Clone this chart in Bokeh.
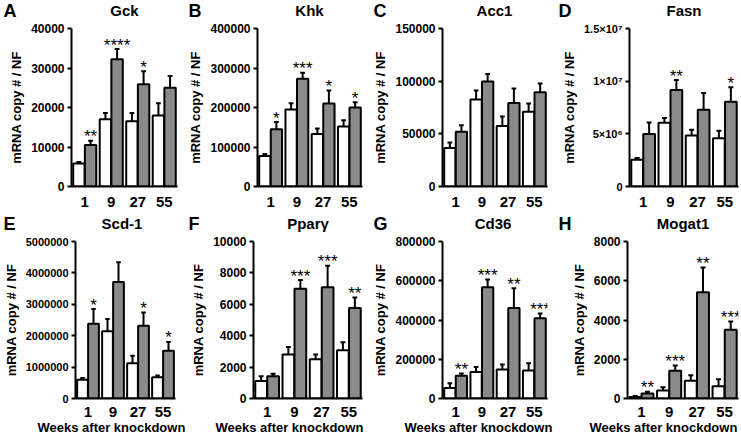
import numpy as np
from bokeh.plotting import figure
from bokeh.models import ColumnDataSource, FactorRange, Range1d, FixedTicker, Title
from bokeh.transform import dodge
from bokeh.layouts import row, column
from bokeh.embed import file_html
from bokeh.resources import INLINE
from bokeh.core.properties import value

weeks = ["1", "9", "27", "55"]

gck_ctrl = [5800, 17000, 16500, 18000]
gck_ctrl_err = [400, 1600, 2100, 3100]
gck_kd = [10500, 32200, 25900, 25000]
gck_kd_err = [1100, 2600, 3300, 3000]
gck_sig = ["**", "****", "*", ""]
gck_ticks = [0, 10000, 20000, 30000, 40000]
gck_tick_labels = ["0", "10000", "20000", "30000", "40000"]

khk_ctrl = [77000, 195000, 133000, 152000]
khk_ctrl_err = [5000, 16000, 14000, 16000]
khk_kd = [145000, 273000, 210000, 200000]
khk_kd_err = [18000, 15000, 33000, 13000]
khk_sig = ["*", "***", "*", "*"]
khk_ticks = [0, 100000, 200000, 300000, 400000]
khk_tick_labels = ["0", "100000", "200000", "300000", "400000"]

acc1_ctrl = [36500, 82700, 57500, 71000]
acc1_ctrl_err = [5300, 8500, 9000, 7700]
acc1_kd = [52000, 99700, 79300, 89500]
acc1_kd_err = [6200, 7000, 13700, 8300]
acc1_sig = ["", "", "", ""]
acc1_ticks = [0, 50000, 100000, 150000]
acc1_tick_labels = ["0", "50000", "100000", "150000"]

fasn_ctrl = [2540000, 6050000, 4830000, 4590000]
fasn_ctrl_err = [170000, 450000, 550000, 700000]
fasn_kd = [4980000, 9170000, 7280000, 8040000]
fasn_kd_err = [1100000, 930000, 1600000, 1380000]
fasn_sig = ["", "**", "", "*"]
fasn_ticks = [0, 5000000, 10000000, 15000000]
fasn_tick_labels = ["0", "5×10⁶", "1×10⁷", "1.5×10⁷"]

scd1_ctrl = [600000, 2140000, 1120000, 680000]
scd1_ctrl_err = [50000, 390000, 240000, 50000]
scd1_kd = [2380000, 3710000, 2320000, 1520000]
scd1_kd_err = [470000, 630000, 420000, 280000]
scd1_sig = ["*", "", "*", "*"]
scd1_ticks = [0, 1000000, 2000000, 3000000, 4000000, 5000000]
scd1_tick_labels = ["0", "1000000", "2000000", "3000000", "4000000", "5000000"]

pparg_ctrl = [1120, 2810, 2500, 3075]
pparg_ctrl_err = [300, 470, 310, 510]
pparg_kd = [1420, 6990, 7090, 5760]
pparg_kd_err = [150, 550, 1360, 680]
pparg_sig = ["", "***", "***", "**"]
pparg_ticks = [0, 2000, 4000, 6000, 8000, 10000]
pparg_tick_labels = ["0", "2000", "4000", "6000", "8000", "10000"]

cd36_ctrl = [54000, 135000, 148000, 143000]
cd36_ctrl_err = [24000, 25000, 25000, 36000]
cd36_kd = [116000, 567000, 461000, 409000]
cd36_kd_err = [11000, 40000, 101000, 24000]
cd36_sig = ["**", "***", "**", "***"]
cd36_ticks = [0, 200000, 400000, 600000, 800000]
cd36_tick_labels = ["0", "200000", "400000", "600000", "800000"]

mogat1_ctrl = [80, 410, 900, 620]
mogat1_ctrl_err = [50, 160, 290, 360]
mogat1_kd = [260, 1420, 5420, 3500]
mogat1_kd_err = [80, 260, 1260, 425]
mogat1_sig = ["**", "***", "**", "***"]
mogat1_ticks = [0, 2000, 4000, 6000, 8000]
mogat1_tick_labels = ["0", "2000", "4000", "6000", "8000"]

row1_letters = ["A", "B", "C", "D"]
row1_titles = ["Gck", "Khk", "Acc1", "Fasn"]
row2_letters = ["E", "F", "G", "H"]
row2_titles = ["Scd-1", "Pparγ", "Cd36", "Mogat1"]

x_label = "Weeks after knockdown"
y_label = "mRNA copy # / NF"

FONT = "Liberation Sans"
GRAY = "#8a8a8a"
BW = 0.43
OFF = 0.22
CAP = 0.09
TOTAL_W = 741

# geometry per panel: (width, left, right) per column; per row: header height, (height, top, bottom)
COLS = [[(185, 71, 8), (185, 71, 8), (185, 71, 8), (186, 74, 3)],
        [(185, 68, 10), (185, 68, 8), (185, 68, 8), (186, 72, 3)]]
HEADER_H = [21, 21]
LETTER_Y = 10.5
TITLE_Y = 11.0
ROWS = [(192, 7, 27), (202, 7, 38)]
XSTANDOFF = [4, 2]


def make_header(r, letters, titles):
    h = HEADER_H[r]
    p = figure(frame_width=TOTAL_W, frame_height=h, x_range=Range1d(0, TOTAL_W), y_range=Range1d(0, h),
               x_axis_type=None, y_axis_type=None, title=None,
               output_backend="svg", toolbar_location=None, tools="",
               min_border=0, min_border_left=0, min_border_right=0, min_border_top=0, min_border_bottom=0)
    p.outline_line_color = None
    p.xgrid.visible = False
    p.ygrid.visible = False
    lx, tx = [], []
    x0 = 0
    for (w, l, rt) in COLS[r]:
        lx.append(x0 + 3)
        tx.append(x0 + l + (w - l - rt) / 2)
        x0 += w
    p.text(x=lx, y=[LETTER_Y] * len(lx), text=letters, text_align="left", text_baseline="alphabetic",
           text_font=value(FONT), text_font_size="18px", text_font_style="bold", text_color="black")
    p.text(x=tx, y=[TITLE_Y] * len(tx), text=titles, text_align="center", text_baseline="alphabetic",
           text_font=value(FONT), text_font_size="15px", text_font_style="bold", text_color="black")
    return p


def make_panel(r, c, ctrl, ctrl_err, kd, kd_err, sig, ticks, tick_labels,
               tick_size="12px", with_xlabel=False):
    width, left, right = COLS[r][c]
    height, top, bottom = ROWS[r]

    p = figure(x_range=FactorRange(factors=weeks, range_padding=0),
               y_range=Range1d(0, ticks[-1]),
               width=width, height=height, title=None,
               output_backend="svg", toolbar_location=None, tools="",
               min_border_left=left, min_border_right=right,
               min_border_top=top, min_border_bottom=bottom)

    src = ColumnDataSource(dict(
        week=weeks, ctrl=ctrl, kd=kd,
        ctrl_top=list(np.add(ctrl, ctrl_err)), kd_top=list(np.add(kd, kd_err)),
        sig=sig))

    for field, topf, off, color in (("ctrl", "ctrl_top", -OFF, "white"), ("kd", "kd_top", OFF, GRAY)):
        p.vbar(x=dodge("week", off, range=p.x_range), top=field, width=BW,
               fill_color=color, line_color="black", line_width=2, source=src)
        p.segment(x0=dodge("week", off, range=p.x_range), x1=dodge("week", off, range=p.x_range),
                  y0=field, y1=topf, line_color="black", line_width=2, source=src)
        p.segment(x0=dodge("week", off - CAP, range=p.x_range), x1=dodge("week", off + CAP, range=p.x_range),
                  y0=topf, y1=topf, line_color="black", line_width=2, source=src)

    p.text(x=dodge("week", OFF, range=p.x_range), y="kd_top", text="sig", source=src,
           text_align="center", text_baseline="alphabetic", y_offset=-4,
           text_font=value(FONT), text_font_size="17px", text_color="black")

    p.xgrid.visible = False
    p.ygrid.visible = False
    p.outline_line_color = None

    p.xaxis.major_tick_line_color = None
    p.xaxis.minor_tick_line_color = None
    p.xaxis.axis_line_width = 2
    p.xaxis.axis_line_color = "black"
    p.xaxis.major_label_text_font = FONT
    p.xaxis.major_label_text_font_size = "15px"
    p.xaxis.major_label_text_font_style = "bold"
    p.xaxis.major_label_text_color = "black"
    p.xaxis.major_label_standoff = XSTANDOFF[r]

    p.yaxis.ticker = FixedTicker(ticks=ticks)
    overrides = {}
    for t, lab in zip(ticks, tick_labels):
        overrides[int(t)] = lab
        overrides[str(int(t))] = lab
    p.yaxis.major_label_overrides = overrides
    p.yaxis.minor_tick_line_color = None
    p.yaxis.major_tick_out = 4
    p.yaxis.major_tick_in = 0
    p.yaxis.major_tick_line_width = 2
    p.yaxis.axis_line_width = 2
    p.yaxis.axis_line_color = "black"
    p.yaxis.major_label_text_font = FONT
    p.yaxis.major_label_text_font_size = tick_size
    p.yaxis.major_label_text_font_style = "bold"
    p.yaxis.major_label_text_color = "black"
    p.yaxis.major_label_standoff = 3
    p.yaxis.axis_label = y_label
    p.yaxis.axis_label_text_font = FONT
    p.yaxis.axis_label_text_font_size = "13px"
    p.yaxis.axis_label_text_font_style = "bold"
    p.yaxis.axis_label_text_color = "black"
    p.yaxis.axis_label_standoff = 4

    if with_xlabel:
        p.add_layout(Title(text=x_label, align="left", offset=-38, vertical_align="top", standoff=0,
                           text_font=FONT, text_font_size="13px", text_font_style="bold",
                           text_color="black"), "below")
    return p


h1 = make_header(0, row1_letters, row1_titles)
h2 = make_header(1, row2_letters, row2_titles)

pA = make_panel(0, 0, gck_ctrl, gck_ctrl_err, gck_kd, gck_kd_err, gck_sig, gck_ticks, gck_tick_labels)
pB = make_panel(0, 1, khk_ctrl, khk_ctrl_err, khk_kd, khk_kd_err, khk_sig, khk_ticks, khk_tick_labels)
pC = make_panel(0, 2, acc1_ctrl, acc1_ctrl_err, acc1_kd, acc1_kd_err, acc1_sig, acc1_ticks, acc1_tick_labels)
pD = make_panel(0, 3, fasn_ctrl, fasn_ctrl_err, fasn_kd, fasn_kd_err, fasn_sig, fasn_ticks, fasn_tick_labels, tick_size="11px")
pE = make_panel(1, 0, scd1_ctrl, scd1_ctrl_err, scd1_kd, scd1_kd_err, scd1_sig, scd1_ticks, scd1_tick_labels, tick_size="11px", with_xlabel=True)
pF = make_panel(1, 1, pparg_ctrl, pparg_ctrl_err, pparg_kd, pparg_kd_err, pparg_sig, pparg_ticks, pparg_tick_labels, with_xlabel=True)
pG = make_panel(1, 2, cd36_ctrl, cd36_ctrl_err, cd36_kd, cd36_kd_err, cd36_sig, cd36_ticks, cd36_tick_labels, with_xlabel=True)
pH = make_panel(1, 3, mogat1_ctrl, mogat1_ctrl_err, mogat1_kd, mogat1_kd_err, mogat1_sig, mogat1_ticks, mogat1_tick_labels, with_xlabel=True)

layout = column(h1, row(pA, pB, pC, pD), h2, row(pE, pF, pG, pH))
open("out.html", "w").write(file_html(layout, INLINE))
